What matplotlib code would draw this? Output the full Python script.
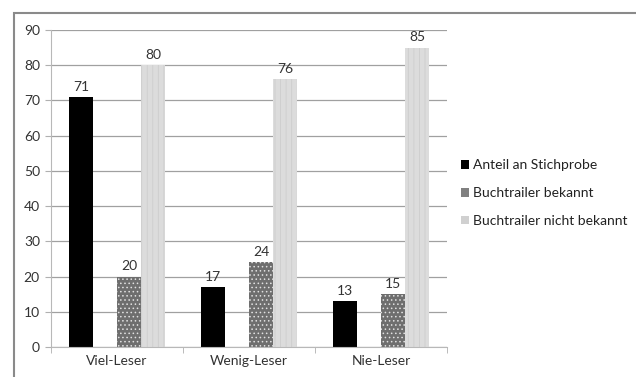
import numpy as np
import matplotlib.pyplot as plt
from matplotlib.patches import Patch, Rectangle

plt.rcParams['font.family'] = ['Lato', 'DejaVu Sans']
plt.rcParams['hatch.linewidth'] = 0.6

# Data
categories = ["Viel-Leser", "Wenig-Leser", "Nie-Leser"]
series_names = ["Anteil an Stichprobe", "Buchtrailer bekannt", "Buchtrailer nicht bekannt"]
anteil = [71, 17, 13]
bekannt = [20, 24, 15]
nicht_bekannt = [80, 76, 85]
y_ticks = list(range(0, 100, 10))

W, H = 636, 377
fig = plt.figure(figsize=(W / 100, H / 100), dpi=100)
ax = fig.add_axes([51 / W, 30 / H, (447 - 51) / W, (347 - 30) / H])

x = np.arange(len(categories))
w = 24 / 132

b1 = ax.bar(x - 1.5 * w, anteil, w, color='black', linewidth=0)
b2 = ax.bar(x + 0.5 * w, bekannt, w, color='#6e6e6e', edgecolor='#e0e0e0',
            hatch='....', linewidth=0)
b3 = ax.bar(x + 1.5 * w, nicht_bekannt, w, color='#dcdcdc', edgecolor='#cdcdcd',
            hatch='|||', linewidth=0)

for bars, vals in [(b1, anteil), (b2, bekannt), (b3, nicht_bekannt)]:
    for rect, v in zip(bars, vals):
        ax.text(rect.get_x() + rect.get_width() / 2, v + 1.2, str(v),
                ha='center', va='bottom', fontsize=10, color='#333333')

ax.set_xlim(-0.5, 2.5)
ax.set_ylim(0, 90)
ax.set_yticks(y_ticks)
ax.yaxis.grid(True, color='#a0a0a0', linewidth=0.9)
ax.set_axisbelow(True)

ax.set_xticks(x)
ax.set_xticklabels(categories)
ax.set_xticks(np.arange(-0.5, 3, 1), minor=True)
ax.tick_params(axis='x', which='major', length=0, pad=6, labelsize=10, labelcolor='#333333')
ax.tick_params(axis='x', which='minor', length=4, color='#b0b0b0')
ax.tick_params(axis='y', length=4, color='#b0b0b0', labelsize=10, labelcolor='#333333', pad=4)

for s in ['top', 'right']:
    ax.spines[s].set_visible(False)
for s in ['left', 'bottom']:
    ax.spines[s].set_color('#b8b8b8')

# Legend
handles = [Patch(facecolor='black'), Patch(facecolor='#808080'), Patch(facecolor='#d0d0d0')]
fig.legend(handles, series_names, loc='center left', bbox_to_anchor=(455 / W, 1 - 193 / H),
           frameon=False, fontsize=10, handlelength=0.6, handleheight=0.6,
           handletextpad=0.3, labelspacing=1.15, borderaxespad=0, labelcolor='#222222')

# outer chart border
fig.patches.append(Rectangle((14 / W, -0.2), 2, 1.2 - 13.5 / H, transform=fig.transFigure,
                             fill=False, edgecolor='#8a8a8a', linewidth=1.5))

fig.savefig('out.png', dpi=100)
